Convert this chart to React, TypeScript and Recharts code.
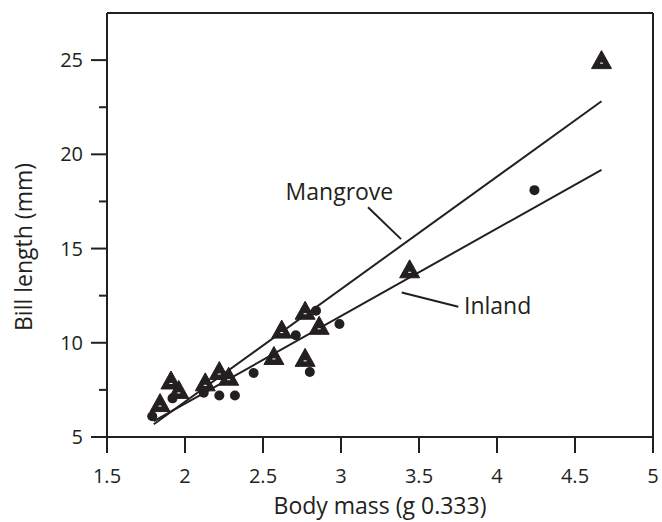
import React from "react";
import {
  ScatterChart,
  Scatter,
  XAxis,
  YAxis,
  ReferenceLine,
  ReferenceDot,
  Label,
} from "recharts";

const INK = "#231f20";
const FONT = "'Open Sans', 'Noto Sans', sans-serif";

// Mangrove birds (triangles): body mass (g^0.333), bill length (mm)
const mangroveMass = [1.84, 1.91, 1.96, 2.13, 2.22, 2.28, 2.57, 2.62, 2.77, 2.86, 2.77, 3.44, 4.67];
const mangroveBill = [6.8, 8.0, 7.5, 7.9, 8.5, 8.2, 9.3, 10.7, 11.7, 10.9, 9.2, 13.9, 25.0];

// Inland birds (circles)
const inlandMass = [1.79, 1.92, 2.12, 2.22, 2.32, 2.44, 2.71, 2.84, 2.99, 2.8, 4.24];
const inlandBill = [6.1, 7.05, 7.35, 7.2, 7.2, 8.4, 10.4, 11.7, 11.0, 8.45, 18.1];

// fitted lines (end points)
const mangroveFitMass = [1.8, 4.67];
const mangroveFitBill = [5.68, 22.82];
const inlandFitMass = [1.8, 4.67];
const inlandFitBill = [5.84, 19.18];

const xTicks = [1.5, 2, 2.5, 3, 3.5, 4, 4.5, 5];
const yTicks = [5, 7.5, 10, 12.5, 15, 17.5, 20, 22.5, 25];

const zip = (xs: number[], ys: number[]) => xs.map((x, i) => ({ x, y: ys[i] }));

const mangrove = zip(mangroveMass, mangroveBill);
const inland = zip(inlandMass, inlandBill);
const mangroveFit = zip(mangroveFitMass, mangroveFitBill);
const inlandFit = zip(inlandFitMass, inlandFitBill);

const Triangle = (props: any) => {
  const { cx, cy } = props;
  return (
    <g>
      <polygon
        points={`${cx},${cy - 9.5} ${cx + 10},${cy + 8.5} ${cx - 10},${cy + 8.5}`}
        style={{ fill: INK, stroke: INK, strokeWidth: 1 }}
      />
      <rect x={cx - 1.5} y={cy + 2.5} width={3} height={1} style={{ fill: "#ffffff" }} />
    </g>
  );
};

const Dot = (props: any) => <circle cx={props.cx} cy={props.cy} r={5} fill={INK} />;

const NoShape = () => <g />;

const XTick = (props: any) => {
  const { x, y, payload } = props;
  return (
    <g>
      <line x1={x} x2={x} y1={y} y2={y + 16} stroke={INK} strokeWidth={2} />
      <text x={x} y={y + 46} textAnchor="middle" fill={INK} fontSize={20} fontFamily={FONT}>
        {payload.value}
      </text>
    </g>
  );
};

const YTick = (props: any) => {
  const { x, y, payload } = props;
  const major = payload.value % 5 === 0;
  return (
    <g>
      <line x1={x - (major ? 16 : 8)} x2={x} y1={y} y2={y} stroke={INK} strokeWidth={2} />
      {major && (
        <text x={x - 24} y={y + 7} textAnchor="end" fill={INK} fontSize={20} fontFamily={FONT}>
          {payload.value}
        </text>
      )}
    </g>
  );
};

const YTitle = (props: any) => {
  const vb = props.viewBox || { x: 0, y: 13, height: 424 };
  const cx = vb.x + 32;
  const cy = vb.y + vb.height / 2 + 22;
  return (
    <text
      x={cx}
      y={cy}
      transform={`rotate(-90 ${cx} ${cy})`}
      textAnchor="middle"
      fill={INK}
      fontSize={23}
      fontFamily={FONT}
    >
      Bill length (mm)
    </text>
  );
};

const XTitle = (props: any) => {
  const vb = props.viewBox || { x: 107, y: 437, width: 546 };
  return (
    <text
      x={vb.x + vb.width / 2}
      y={vb.y + 77}
      textAnchor="middle"
      fill={INK}
      fontSize={23}
      fontFamily={FONT}
    >
      Body mass (g 0.333)
    </text>
  );
};

export default function App() {
  return (
    <div style={{ position: "absolute", left: 0, top: 0, background: "#fff" }}>
      <ScatterChart width={662} height={522} margin={{ top: 13, right: 9, left: 0, bottom: 0 }}>
        <XAxis
          type="number"
          dataKey="x"
          domain={[1.5, 5]}
          ticks={xTicks}
          height={85}
          tickSize={0}
          tickMargin={0}
          tickLine={false}
          tick={<XTick />}
          axisLine={{ stroke: INK, strokeWidth: 2 }}
          allowDataOverflow
        >
          <Label content={<XTitle />} />
        </XAxis>
        <YAxis
          type="number"
          dataKey="y"
          domain={[5, 27.5]}
          ticks={yTicks}
          width={107}
          tickSize={0}
          tickMargin={0}
          tickLine={false}
          tick={<YTick />}
          axisLine={{ stroke: INK, strokeWidth: 2 }}
          allowDataOverflow
        >
          <Label content={<YTitle />} />
        </YAxis>
        <ReferenceLine y={27.5} stroke={INK} strokeWidth={2} />
        <ReferenceLine x={5} stroke={INK} strokeWidth={2} />

        <Scatter data={mangroveFit} line={{ stroke: INK, strokeWidth: 2 }} shape={<NoShape />} isAnimationActive={false} />
        <Scatter data={inlandFit} line={{ stroke: INK, strokeWidth: 2 }} shape={<NoShape />} isAnimationActive={false} />
        <Scatter data={inland} shape={<Dot />} isAnimationActive={false} />
        <Scatter data={mangrove} fill={INK} shape={<Triangle />} isAnimationActive={false} />

        <ReferenceLine segment={[{ x: 3.173, y: 17.19 }, { x: 3.385, y: 15.5 }]} stroke={INK} strokeWidth={2} />
        <ReferenceLine segment={[{ x: 3.389, y: 12.67 }, { x: 3.752, y: 11.91 }]} stroke={INK} strokeWidth={2} />
        <ReferenceDot
          x={2.99}
          y={18.03}
          r={0}
          fill="none"
          stroke="none"
          label={{ value: "Mangrove", position: "center", fill: INK, fontSize: 23, fontFamily: FONT }}
        />
        <ReferenceDot
          x={4.004}
          y={11.94}
          r={0}
          fill="none"
          stroke="none"
          label={{ value: "Inland", position: "center", fill: INK, fontSize: 23, fontFamily: FONT }}
        />
      </ScatterChart>
    </div>
  );
}
